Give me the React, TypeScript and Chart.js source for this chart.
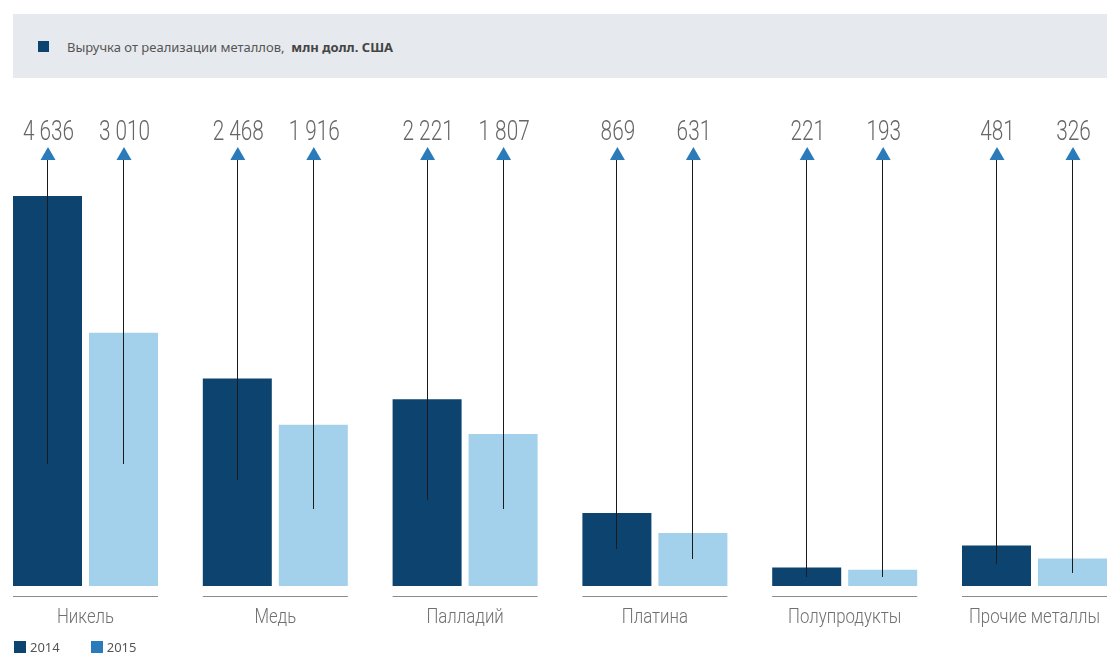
import React, { useEffect, useRef } from "react";
import { Chart, registerables } from "chart.js";

Chart.register(...registerables);

const categories = ["Никель", "Медь", "Палладий", "Платина", "Полупродукты", "Прочие металлы"];
const seriesLabels = ["2014", "2015"];
const revenue2014 = [4636, 2468, 2221, 869, 221, 481];
const revenue2015 = [3010, 1916, 1807, 631, 193, 326];
// decorative pointer lines: value (in data units) where each pointer line ends inside its bar
const pointerEnd2014 = [1450, 1260, 1022, 440, 107, 262];
const pointerEnd2015 = [1450, 915, 915, 321, 107, 155];

const barColors = ["#0c446f", "#a3d0ea"];
const legendColors = ["#0c446f", "#2b7bbb"];
const arrowColor = "#2b7bbb";
const THIN = "Roboto, 'Noto Sans', sans-serif";
const HEADER_FONT = "'Noto Sans', 'Open Sans', sans-serif";

const fmt = (v: number) => String(v).replace(/\B(?=(\d{3})+(?!\d))/g, " ");

function condensedText(ctx: CanvasRenderingContext2D, text: string, x: number, y: number, sx: number) {
  ctx.save();
  ctx.translate(x, y);
  ctx.scale(sx, 1);
  ctx.fillText(text, 0, 0);
  ctx.restore();
}

const pointerPlugin = {
  id: "pointers",
  afterDatasetsDraw(chart: any) {
    const { ctx, chartArea } = chart;
    const yScale = chart.scales.y;
    const top = chartArea.top;
    const bottom = chartArea.bottom;
    ctx.save();
    // separators and category labels under each group
    const m0 = chart.getDatasetMeta(0);
    const m1 = chart.getDatasetMeta(1);
    m0.data.forEach((b0: any, i: number) => {
      const b1 = m1.data[i];
      const l = b0.x - b0.width / 2;
      const r = b1.x + b1.width / 2;
      ctx.strokeStyle = "#8a8a8a";
      ctx.lineWidth = 1.2;
      ctx.beginPath();
      ctx.moveTo(l, bottom + 10.5);
      ctx.lineTo(r, bottom + 10.5);
      ctx.stroke();
      ctx.fillStyle = "#707070";
      ctx.font = `300 21px ${THIN}`;
      ctx.textAlign = "center";
      ctx.textBaseline = "alphabetic";
      condensedText(ctx, categories[i], (l + r) / 2, bottom + 37, 0.8);
    });
    chart.data.datasets.forEach((ds: any, di: number) => {
      const meta = chart.getDatasetMeta(di);
      const ends = di === 0 ? pointerEnd2014 : pointerEnd2015;
      const values = di === 0 ? revenue2014 : revenue2015;
      meta.data.forEach((bar: any, i: number) => {
        const x = Math.floor(bar.x) + 0.5;
        const yEnd = yScale.getPixelForValue(ends[i]);
        ctx.strokeStyle = "#1a1a1a";
        ctx.lineWidth = 1;
        ctx.beginPath();
        ctx.moveTo(x, top - 37);
        ctx.lineTo(x, yEnd);
        ctx.stroke();
        // arrow head
        ctx.fillStyle = arrowColor;
        ctx.beginPath();
        ctx.moveTo(bar.x + 0.5, top - 49);
        ctx.lineTo(bar.x - 7, top - 36);
        ctx.lineTo(bar.x + 8, top - 36);
        ctx.closePath();
        ctx.fill();
        // value label
        ctx.fillStyle = "#666666";
        ctx.font = `300 27px ${THIN}`;
        ctx.textAlign = "center";
        ctx.textBaseline = "alphabetic";
        condensedText(ctx, fmt(values[i]), bar.x + 1, top - 56.5, 0.77);
      });
    });
    ctx.restore();
  },
};

export default function App() {
  const ref = useRef<HTMLCanvasElement>(null);
  useEffect(() => {
    if (!ref.current) return;
    const chart = new Chart(ref.current, {
      type: "bar",
      data: {
        datasets: [
          {
            label: seriesLabels[0],
            data: revenue2014.map((v, i) => ({ x: i, y: v })),
            backgroundColor: barColors[0],
            borderWidth: 0,
            categoryPercentage: 0.8008,
            barPercentage: 0.908,
          },
          {
            label: seriesLabels[1],
            data: revenue2015.map((v, i) => ({ x: i, y: v })),
            backgroundColor: barColors[1],
            borderWidth: 0,
            categoryPercentage: 0.8008,
            barPercentage: 0.908,
          },
        ],
      },
      options: {
        responsive: false,
        animation: false,
        layout: { padding: { top: 196, left: 13, right: 2, bottom: 70 } },
        plugins: { legend: { display: false }, tooltip: { enabled: false } },
        scales: {
          x: {
            type: "linear",
            display: false,
            offset: false,
            grid: { offset: false },
            min: -0.382,
            max: 5.382,
            afterBuildTicks: (axis: any) => {
              axis.ticks = categories.map((_, i) => ({ value: i }));
            },
          },
          y: {
            display: false,
            min: 0,
            max: 4636,
          },
        },
      },
      plugins: [pointerPlugin],
    });
    return () => chart.destroy();
  }, []);

  return (
    <div style={{ position: "fixed", left: 0, top: 0, width: 1109, height: 656, background: "#fff", overflow: "hidden" }}>
      <canvas ref={ref} width={1109} height={656} style={{ position: "absolute", left: 0, top: 0 }} />
      <div
        style={{
          position: "absolute",
          left: 13,
          top: 14,
          width: 1094,
          height: 64,
          background: "#e6e9ed",
        }}
      >
        <div style={{ position: "absolute", left: 25, top: 27, width: 11, height: 11, background: legendColors[0] }} />
        <div
          style={{
            position: "absolute",
            left: 54,
            top: 24,
            fontFamily: HEADER_FONT,
            fontSize: 13,
            lineHeight: "18px",
            color: "#555",
            whiteSpace: "pre",
          }}
        >
          Выручка от реализации металлов,  <b style={{ color: "#444" }}>млн долл. США</b>
        </div>
      </div>
      <div style={{ position: "absolute", left: 14, top: 638, display: "flex", alignItems: "center", fontFamily: HEADER_FONT, fontSize: 13, color: "#555" }}>
        {seriesLabels.map((s, i) => (
          <div key={s} style={{ display: "flex", alignItems: "center", marginRight: i === 0 ? 31 : 0 }}>
            <div style={{ width: 12, height: 12, background: legendColors[i], marginRight: 4 }} />
            <span style={{ lineHeight: "18px" }}>{s}</span>
          </div>
        ))}
      </div>
    </div>
  );
}
